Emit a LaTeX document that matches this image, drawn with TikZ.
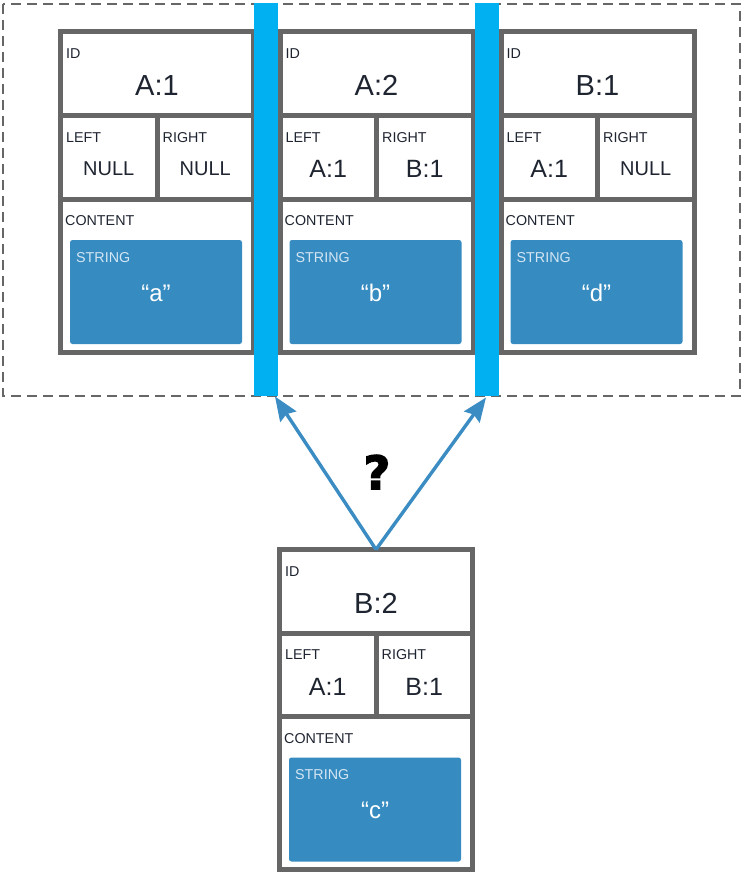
\documentclass[tikz,border=0pt]{standalone}
\usepackage{fontspec}
\setmainfont{Liberation Sans}
\newfontfamily\qmarkfont[FakeBold=3]{DejaVu Sans Bold}
\usetikzlibrary{arrows.meta}
\definecolor{cellgray}{HTML}{666666}
\definecolor{barblue}{HTML}{00B0F0}
\definecolor{strblue}{HTML}{368BC1}
\definecolor{textdark}{HTML}{1E2430}
\definecolor{strlabel}{HTML}{D5E6F3}
\definecolor{linkblue}{HTML}{3A8CC3}

\tikzset{
  cell/.style={draw=cellgray, line width=5pt},
  frame/.style={draw=cellgray, line width=2.8pt, dash pattern=on 10pt off 6pt},
  strbox/.style={fill=strblue, rounded corners=2.5pt},
  lbl/.style={anchor=west, inner sep=0pt, text=textdark, font=\fontsize{14.3}{15}\selectfont},
  strlbl/.style={anchor=west, inner sep=0pt, text=strlabel, font=\fontsize{14.3}{15}\selectfont},
  idval/.style={inner sep=0pt, text=textdark, font=\fontsize{29}{30}\selectfont},
  refval/.style={inner sep=0pt, text=textdark, font=\fontsize{25}{26}\selectfont},
  nullval/.style={inner sep=0pt, text=textdark, font=\fontsize{20}{21}\selectfont},
  strval/.style={inner sep=0pt, text=white, font=\fontsize{24}{25}\selectfont},
  barfill/.style={fill=barblue},
  link/.style={draw=linkblue, line width=3.4pt, -{Stealth[length=24pt, width=19pt, inset=3pt]}},
}

% one record: name, x, y, id, left value, right value, string value, left style, right style
\newcommand\drawrecord[9]{%
  \begin{scope}[shift={(#2,#3)}]
    \draw[cell] (0,0) rectangle (193,84);
    \draw[cell] (0,84) rectangle (96.5,167);
    \draw[cell] (96.5,84) rectangle (193,167);
    \draw[cell] (0,167) rectangle (193,320);
    \coordinate (#1-top) at (96.5,0);
    \node[lbl] (#1-idl) at (5.5,22) {ID};
    \node[idval] (#1-id) at (96.5,53.5) {#4};
    \node[lbl] (#1-ll) at (5.5,105.5) {LEFT};
    \node[lbl] (#1-rl) at (102,105.5) {RIGHT};
    \node[#8] (#1-l) at (48.25,137) {#5};
    \node[#9] (#1-r) at (144.75,137) {#6};
    \node[lbl] (#1-cl) at (4.5,189) {CONTENT};
    \fill[strbox] (9.5,208) rectangle (181.5,312);
    \node[strlbl] (#1-sl) at (15.5,225.5) {STRING};
    \node[strval] (#1-s) at (95.5,261) {“#7”};
  \end{scope}}

\begin{document}
\begin{tikzpicture}[x=1pt, y=-1pt]
  \useasboundingbox (0,0) rectangle (742,872);
  \fill[white] (0,0) rectangle (742,872);

  % dashed group around the three stored records
  \draw[frame] (3,4) rectangle (740,396);

  \drawrecord{a1}{60.5}{32}{A:1}{NULL}{NULL}{a}{nullval}{nullval}
  \drawrecord{a2}{280}{32}{A:2}{A:1}{B:1}{b}{refval}{refval}
  \drawrecord{b1}{501}{32}{B:1}{A:1}{NULL}{d}{refval}{nullval}
  \drawrecord{b2}{279.5}{549.5}{B:2}{A:1}{B:1}{c}{refval}{refval}

  % insertion slots
  \fill[barfill] (254,3) rectangle (277.5,395.5);
  \fill[barfill] (475,3) rectangle (499,395.5);
  \coordinate (slot1) at (275,396.5);
  \coordinate (slot2) at (486,397.5);

  \draw[link] (b2-top) -- (slot1);
  \draw[link] (b2-top) -- (slot2);

  \node[inner sep=0pt, font=\qmarkfont\fontsize{46}{47}\selectfont] (q) at (377,472) {?};
\end{tikzpicture}
\end{document}
